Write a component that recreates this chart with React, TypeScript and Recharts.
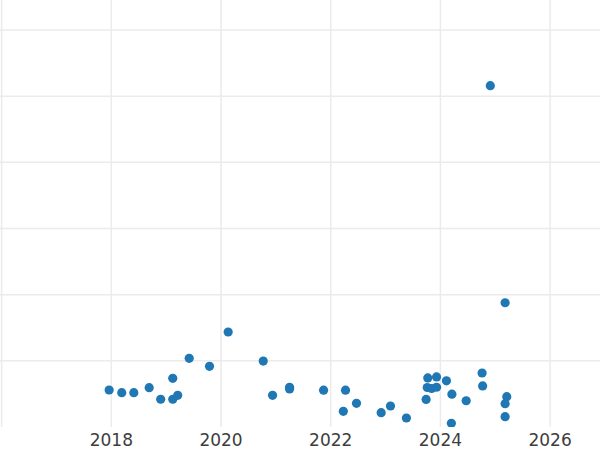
import { ScatterChart, Scatter, XAxis, YAxis, CartesianGrid } from 'recharts';

// release year (fractional) of each point
const years = [
  2017.96, 2018.19, 2018.41, 2018.69, 2018.9, 2019.12, 2019.12, 2019.21, 2019.42, 2019.79,
  2020.13, 2020.77, 2020.94, 2021.25, 2021.25, 2021.87, 2022.27, 2022.23, 2022.47, 2022.92,
  2023.09, 2023.38, 2023.77, 2023.93, 2023.76, 2023.84, 2023.93, 2023.74, 2024.11, 2024.21,
  2024.2, 2024.47, 2024.76, 2024.77, 2024.91, 2025.18, 2025.21, 2025.18, 2025.18,
];

// y values (axis labels are not shown in the reference)
const values = [
  5.59, 5.18, 5.18, 5.94, 4.19, 7.36, 4.19, 4.79, 10.38, 9.17,
  14.36, 9.97, 4.79, 6.0, 5.74, 5.56, 5.56, 2.37, 3.58, 2.16,
  3.17, 1.36, 7.41, 7.56, 5.97, 5.82, 6.01, 4.16, 6.98, 4.96,
  0.57, 3.97, 8.16, 6.2, 51.58, 18.78, 4.58, 3.52, 1.56,
];

const xTicks = [2016, 2018, 2020, 2022, 2024, 2026];
const yTicks = [10, 20, 30, 40, 50, 60];

const data = years.map((year, i) => ({ year, value: values[i] }));

const Dot = (props: any) => <circle cx={props.cx} cy={props.cy} r={4.6} fill="#1f77b4" />;

export default function App() {
  return (
    <div style={{ position: 'absolute', left: 0, top: 0, background: '#fff' }}>
      <ScatterChart width={600} height={450} margin={{ top: 0, right: 0, bottom: 0, left: 0 }}>
        <CartesianGrid stroke="#ebebeb" strokeWidth={1.5} syncWithTicks />
        <XAxis
          type="number"
          dataKey="year"
          domain={[2015.97, 2026.91]}
          ticks={xTicks}
          allowDataOverflow
          axisLine={false}
          tickLine={false}
          tickSize={0}
          tickMargin={7}
          height={23}
          tickFormatter={(v: number) => (v === 2016 ? '' : String(v))}
          tick={{ fill: '#3d3d3d', fontSize: 17, fontFamily: 'DejaVu Sans' }}
        />
        <YAxis
          type="number"
          dataKey="value"
          domain={[0, 64.53]}
          ticks={yTicks}
          allowDataOverflow
          hide
        />
        <Scatter data={data} shape={Dot} isAnimationActive={false} />
      </ScatterChart>
    </div>
  );
}
